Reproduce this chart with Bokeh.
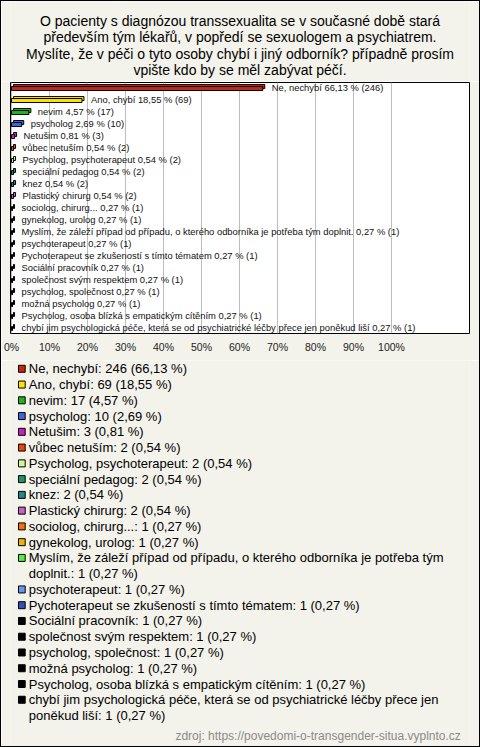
import textwrap
from bokeh.plotting import figure
from bokeh.models import Range1d, FixedTicker, ColumnDataSource
from bokeh.layouts import column
from bokeh.embed import file_html
from bokeh.resources import INLINE
from bokeh.core.properties import value

title_lines = [
    "O pacienty s diagnózou transsexualita se v současné době stará",
    "především tým lékařů, v popředí se sexuologem a psychiatrem.",
    "Myslíte, že v péči o tyto osoby chybí i jiný odborník? případně prosím",
    "vpište kdo by se měl zabývat péčí.",
]

categories = [
    "Ne, nechybí",
    "Ano, chybí",
    "nevim",
    "psycholog",
    "Netušim",
    "vůbec netuším",
    "Psycholog, psychoterapeut",
    "speciální pedagog",
    "knez",
    "Plastický chirurg",
    "sociolog, chirurg...",
    "gynekolog, urolog",
    "Myslím, že záleží případ od případu, o kterého odborníka je potřeba tým doplnit.",
    "psychoterapeut",
    "Pychoterapeut se zkušeností s tímto tématem",
    "Sociální pracovník",
    "společnost svým respektem",
    "psycholog, společnost",
    "možná psycholog",
    "Psycholog, osoba blízká s empatickým cítěním",
    "chybí jim psychologická péče, která se od psychiatrické léčby přece jen poněkud liší",
]
counts = [246, 69, 17, 10, 3, 2, 2, 2, 2, 2, 1, 1, 1, 1, 1, 1, 1, 1, 1, 1, 1]
percents = [66.13, 18.55, 4.57, 2.69, 0.81, 0.54, 0.54, 0.54, 0.54, 0.54,
            0.27, 0.27, 0.27, 0.27, 0.27, 0.27, 0.27, 0.27, 0.27, 0.27, 0.27]
colors = ["#C4261A", "#FFE100", "#1FB51F", "#3B66E2", "#C81EC8", "#E4470F",
          "#CCFA98", "#1E9466", "#23848F", "#C862C8", "#EC7212", "#E9B404",
          "#55EA40", "#6C95EA", "#3152B5", "#000000", "#000000", "#000000",
          "#000000", "#000000", "#000000"]
x_ticks = [0, 10, 20, 30, 40, 50, 60, 70, 80, 90, 100]
source_note = "zdroj: https://povedomi-o-transgender-situa.vyplnto.cz"

BG = "#F3F2EB"
FONT = value("Liberation Sans")
W = 478


def fmt(v):
    return f"{v:.2f}".replace(".", ",")


# ---------- title ----------
t_h = 80
t = figure(width=W, height=t_h, x_range=Range1d(0, W), y_range=Range1d(t_h, 0),
           output_backend="svg", toolbar_location=None, min_border=0,
           x_axis_location=None, y_axis_location=None)
t.grid.visible = False
t.outline_line_color = None
t.background_fill_color = BG
t.border_fill_color = BG
t.text(x=[W / 2] * len(title_lines),
       y=[19.7 + 16.2 * i for i in range(len(title_lines))],
       text=title_lines, text_align="center", text_baseline="middle",
       text_font=FONT, text_font_size="14px", text_color="#000000")

# ---------- bars ----------
n = len(categories)
ys = [-i for i in range(n)]
px_row = 1 / 12.0
dx = 2 / 3.8
bar_src = ColumnDataSource(dict(
    y=ys, pct=percents, color=colors,
    pct_back=[v + dx for v in percents],
    fb=[y - 3 * px_row for y in ys], ft=[y + 1 * px_row for y in ys],
    bb=[y - 1 * px_row for y in ys], bt=[y + 3 * px_row for y in ys],
    label=[f"{c} {fmt(v)} % ({k})" for c, v, k in zip(categories, percents, counts)],
))

p = figure(width=W, height=279, x_range=Range1d(-1 / 3.8, -1 / 3.8 + 459 / 3.8),
           y_range=Range1d(-(n - 1) - 0.5, 0.42),
           output_backend="svg", toolbar_location=None,
           min_border_left=9, min_border_right=10, min_border_top=1, min_border_bottom=27,
           y_axis_location=None)
p.background_fill_color = "white"
p.border_fill_color = BG
p.outline_line_color = "black"
p.outline_line_width = 1
p.ygrid.visible = False
p.xgrid.ticker = FixedTicker(ticks=x_ticks)
p.xgrid.grid_line_color = "#BDBDBD"
p.xaxis.ticker = FixedTicker(ticks=x_ticks)
p.xaxis.major_label_overrides = {v: f"{v}%" for v in x_ticks}
p.xaxis.axis_line_color = None
p.xaxis.major_tick_line_color = None
p.xaxis.minor_tick_line_color = None
p.xaxis.major_tick_out = 0
p.xaxis.major_tick_in = 0
p.xaxis.minor_tick_out = 0
p.xaxis.major_label_standoff = 7
p.xaxis.major_label_text_font = "Liberation Sans"
p.xaxis.major_label_text_font_size = "10.5px"
p.xaxis.major_label_text_color = "#222222"

p.quad(left=dx, right="pct_back", bottom="bb", top="bt", source=bar_src,
       fill_color="color", line_color="black", line_width=1)
p.quad(left=0, right="pct", bottom="fb", top="ft", source=bar_src,
       fill_color="color", line_color="black", line_width=1)
p.text(x="pct", y="y", text="label", source=bar_src, x_offset=9,
       text_baseline="middle", text_font=FONT, text_font_size="9.4px",
       text_color="#111111")

# ---------- legend ----------
l_h = 386
lg = figure(width=W, height=l_h, x_range=Range1d(0, W), y_range=Range1d(l_h, 0),
            output_backend="svg", toolbar_location=None, min_border=0,
            x_axis_location=None, y_axis_location=None)
lg.grid.visible = False
lg.outline_line_color = None
lg.background_fill_color = BG
lg.border_fill_color = BG

line_y0 = 8.3
line_h = 15.76
sq_x, sq_y, sq_c = [], [], []
tx_x, tx_y, tx_t = [], [], []
line = 0
for c, v, k, col in zip(categories, percents, counts, colors):
    lines = textwrap.wrap(f"{c}: {k} ({fmt(v)} %)", 72)
    sq_x.append(11.8)
    sq_y.append(line_y0 + line_h * line)
    sq_c.append(col)
    for j, s in enumerate(lines):
        tx_x.append(19)
        tx_y.append(line_y0 + line_h * (line + j))
        tx_t.append(s)
    line += len(lines)

lg.rect(x=sq_x, y=sq_y, width=7, height=7, fill_color=sq_c, line_color="black")
lg.text(x=tx_x, y=tx_y, text=tx_t, text_baseline="middle", text_font=FONT,
        text_font_size="13px", text_color="#000000")
lg.text(x=[469], y=[375], text=[source_note], text_align="right",
        text_baseline="middle", text_font=FONT, text_font_size="12px",
        text_color="#8A8A8A")

layout = column(t, p, lg, spacing=0, styles={"border": "1px solid black"})

open("out.html", "w").write(file_html(layout, INLINE))
